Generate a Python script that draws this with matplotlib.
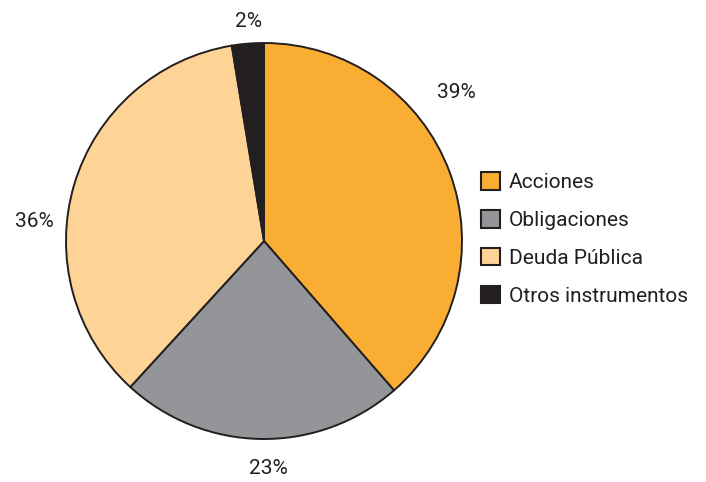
import matplotlib
matplotlib.use("Agg")
import matplotlib.pyplot as plt
from matplotlib.patches import Patch

plt.rcParams['font.family'] = ['Roboto', 'DejaVu Sans']

# datos (medidos de los sectores)
categorias = ["Acciones", "Obligaciones", "Deuda Pública", "Otros instrumentos"]
valores = [38.6, 23.2, 35.6, 2.6]
colores = ["#F9AE33", "#939598", "#FDD396", "#231F20"]
etiquetas = ["39%", "23%", "36%", "2%"]
# posiciones de las etiquetas (coordenadas del eje, radio = 1)
pos_etiquetas = [(0.97, 0.75), (0.02, -1.15), (-1.16, 0.10), (-0.08, 1.11)]

W, H = 706, 482
fig = plt.figure(figsize=(W / 100, H / 100), dpi=100)
cx, cy, r = 264, 241, 198
ax = fig.add_axes([(cx - r) / W, (H - cy - r) / H, 2 * r / W, 2 * r / H])

ax.pie(valores, colors=colores, startangle=90, counterclock=False,
       wedgeprops=dict(edgecolor="#231F20", linewidth=1.4))
ax.set_xlim(-1, 1)
ax.set_ylim(-1, 1)
ax.set_aspect("equal")
ax.axis("off")

for txt, (x, y) in zip(etiquetas, pos_etiquetas):
    ax.text(x, y, txt, ha="center", va="center", fontsize=15, color="#231F20",
            clip_on=False)

handles = [Patch(facecolor=c, edgecolor="#231F20", linewidth=1.5) for c in colores]
fig.legend(handles, categorias, loc="center left", bbox_to_anchor=(481 / W, 1 - 239 / H),
           frameon=False, fontsize=15, handlelength=0.9, handleheight=0.9,
           handletextpad=0.45, labelspacing=0.86, borderaxespad=0, borderpad=0,
           labelcolor="#231F20")

fig.savefig("out.png", dpi=100)
